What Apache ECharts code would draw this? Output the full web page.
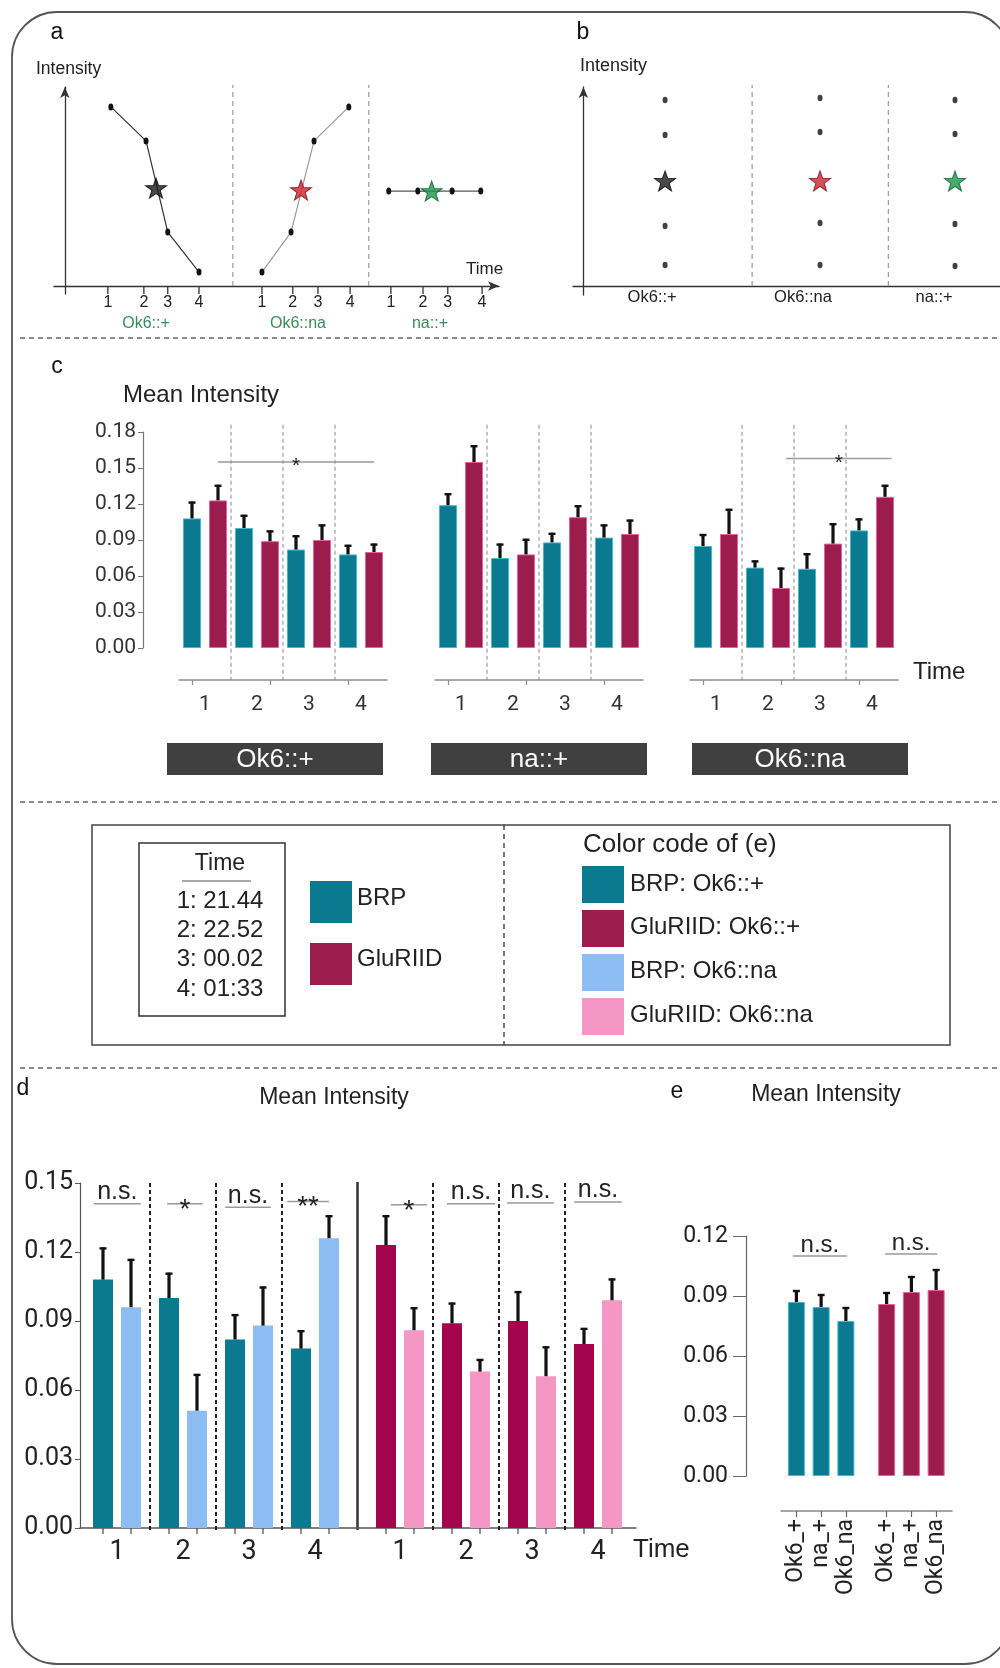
<!DOCTYPE html>
<html>
<head>
<meta charset="utf-8">
<title>BRP and GluRIID mean intensity over time</title>
<script src="https://cdn.jsdelivr.net/npm/echarts@6/dist/echarts.min.js"></script>
<style>
  html, body { margin: 0; padding: 0; background: #ffffff; }
  #chart { width: 1000px; height: 1668px; }
</style>
</head>
<body>
<div id="chart"></div>
<script>
// ================= data =================
const timeLabels = ['1', '2', '3', '4'];
const timeTable = ['1: 21.44', '2: 22.52', '3: 00.02', '4: 01:33'];

// (a) schematic intensity traces, arbitrary time / intensity units
const aTimesOk6Plus = [10.6, 18.7, 23.7, 30.9];
const aIntOk6Plus   = [90, 72.9, 27.1, 7.0];
const aMeanOk6Plus  = [21.0, 49.2];
const aTimesOk6Na   = [45.4, 52.1, 57.4, 65.4];
const aIntOk6Na     = [7.0, 27.1, 72.9, 90];
const aMeanOk6Na    = [54.4, 48.2];
const aTimesNaPlus  = [74.6, 81.3, 89.2, 95.8];
const aIntNaPlus    = [47.7, 47.7, 47.7, 47.7];
const aMeanNaPlus   = [84.5, 47.7];
const aTickTimes    = [9.9, 18.2, 23.7, 30.9, 45.4, 52.5, 58.3, 65.7, 75.1, 82.5, 88.2, 96.1];
const aGroupNames   = ['Ok6::+', 'Ok6::na', 'na::+'];

// (b) schematic intensity spread per genotype
const bGroupNames = ['Ok6::+', 'Ok6::na', 'na::+'];
const bIntOk6Plus = [93.5, 75.9, 30.2, 10.6];
const bIntOk6Na   = [94.5, 77.4, 31.7, 10.6];
const bIntNaPlus  = [93.5, 76.4, 31.2, 10.1];
const bMeans      = [52.8, 52.8, 52.8];

// (c) mean intensity per genotype and time point (mean, SEM)
const cGenotypes     = ['Ok6::+', 'na::+', 'Ok6::na'];
const cBrpOk6Plus    = [0.108, 0.100, 0.082, 0.078];
const cBrpOk6PlusSem = [0.014, 0.011, 0.012, 0.008];
const cGluOk6Plus    = [0.123, 0.089, 0.090, 0.080];
const cGluOk6PlusSem = [0.013, 0.009, 0.013, 0.007];
const cBrpNaPlus     = [0.119, 0.075, 0.088, 0.092];
const cBrpNaPlusSem  = [0.010, 0.012, 0.008, 0.011];
const cGluNaPlus     = [0.155, 0.078, 0.109, 0.095];
const cGluNaPlusSem  = [0.014, 0.013, 0.010, 0.012];
const cBrpOk6Na      = [0.085, 0.067, 0.066, 0.098];
const cBrpOk6NaSem   = [0.010, 0.006, 0.013, 0.010];
const cGluOk6Na      = [0.095, 0.050, 0.087, 0.126];
const cGluOk6NaSem   = [0.021, 0.017, 0.017, 0.010];
const cSigLabels     = [['*'], [], ['*']];
const cSigHeights    = [[0.155], [], [0.158]];

// (d) Ok6::+ vs Ok6::na per time point
const dBrpOk6Plus    = [0.108, 0.100, 0.082, 0.078];
const dBrpOk6PlusSem = [0.014, 0.011, 0.011, 0.008];
const dBrpOk6Na      = [0.096, 0.051, 0.088, 0.126];
const dBrpOk6NaSem   = [0.021, 0.016, 0.017, 0.010];
const dGluOk6Plus    = [0.123, 0.089, 0.090, 0.080];
const dGluOk6PlusSem = [0.013, 0.009, 0.013, 0.007];
const dGluOk6Na      = [0.086, 0.068, 0.066, 0.099];
const dGluOk6NaSem   = [0.010, 0.0055, 0.013, 0.0095];
const dSigBrp        = ['n.s.', '*', 'n.s.', '**'];
const dSigBrpHeight  = [0.141, 0.141, 0.1395, 0.142];
const dSigGlu        = ['*', 'n.s.', 'n.s.', 'n.s.'];
const dSigGluHeight  = [0.1405, 0.141, 0.1413, 0.1417];

// (e) pooled mean intensity per genotype
const eLabels     = ['Ok6_+', 'na_+', 'Ok6_na'];
const eBrp        = [0.087, 0.0845, 0.0775];
const eBrpSem     = [0.006, 0.0065, 0.007];
const eGlu        = [0.086, 0.092, 0.093];
const eGluSem     = [0.006, 0.008, 0.0105];
const eSig        = ['n.s.', 'n.s.'];
const eSigHeight  = [0.110, 0.111];

// key
const keyNames = ['BRP', 'GluRIID'];
const colourCodeLabels = ['BRP: Ok6::+', 'GluRIID: Ok6::+', 'BRP: Ok6::na', 'GluRIID: Ok6::na'];

// ================= layout & style =================
const A = {left: 54, top: 87, width: 445, height: 207};
const B = {left: 573, top: 87, width: 427, height: 208};
const aGroupCentres = [18.7, 53.7, 84.1];
const aDividers = [38.7, 70.0];
const bGroupX = [19.6, 56.8, 89.2];
const bLabelX = [16.5, 52.7, 84.2];
const bDividers = [40.5, 73.2];
const C = {lefts: [179, 435, 690], top: 432, width: 208, height: 216, drop: 32, yOffset: 36, barWidth: 18};
const cSigAnchor = [[1], [], [3]];
const cSigSpans = [[[0, 6]], [], [[0.2, 4.25]]];
const D = {frameLeft: 80, frameWidth: 556, lefts: [84, 367], halfWidth: 264, top: 1183, height: 345, barWidth: 20, pairOffset: 14};
const dSpansBrp = [[-0.35, 0.36], [-0.24, 0.30], [-0.36, 0.33], [-0.42, 0.21]];
const dSpansGlu = [[-0.14, 0.41], [-0.29, 0.44], [-0.38, 0.33], [-0.36, 0.36]];
const E = {frameLeft: 781, frameWidth: 171, lefts: [784, 874.25], halfWidth: 74.25, top: 1236, height: 240, drop: 35, yOffset: 38, barWidth: 17};
const eSpans = [[-0.14, 2.04], [-0.06, 2.04]];

const TEAL = '#0b7a91', TEAL_EDGE = '#43b9c9';
const MAGENTA = '#9c1c4e', MAGENTA_EDGE = '#e2629c';
const MAGENTA_D = '#a2054b';
const LIGHT_BLUE = '#8ebdf3';
const PINK = '#f497c5';
const BOX_GREY = '#404040';
const SANS = "'Liberation Sans', Arial, sans-serif";
const NUM = "Roboto, 'Liberation Sans', sans-serif";
const STAR = 'path://M12,0.6L14.8,8.6L23.3,8.8L16.5,13.9L19,22.1L12,17.2L5,22.1L7.5,13.9L0.7,8.8L9.2,8.6Z';
const STAR_FILL = ['#1c1c1c', '#d0202f', '#18994b'];
const STAR_EDGE = ['#000000', '#6e0f18', '#0c5a2a'];

// ================= builders =================
const grids = [], xAxes = [], yAxes = [], series = [], graphics = [];
const addGrid = r => (grids.push(Object.assign({containLabel: false, outerBoundsMode: 'none'}, r)), grids.length - 1);
const addX = a => (xAxes.push(a), xAxes.length - 1);
const addY = a => (yAxes.push(a), yAxes.length - 1);
const HIDE = {axisTick: {show: false}, axisLabel: {show: false}, splitLine: {show: false}};

function textEl(x, y, text, size, fill, align, vAlign, family, weight) {
  align = align || 'center'; vAlign = vAlign || 'middle';
  return {type: 'text', x: x, y: y, silent: true, style: {
    text: text, fill: fill || '#222', fontSize: size, fontFamily: family || SANS, fontWeight: weight || 'normal',
    align: align, verticalAlign: vAlign, textAlign: align, textVerticalAlign: vAlign}};
}
function addCustom(xi, yi, data, renderItem, z) {
  series.push({type: 'custom', xAxisIndex: xi, yAxisIndex: yi, data: data, renderItem: renderItem,
    z: z == null ? 5 : z, silent: true, clip: false, encode: {x: 0, y: 1}});
}
function errorBarItem(params, api) {
  const cat = api.value(0), mean = api.value(1), sem = api.value(2), off = api.value(3);
  const base = api.coord([cat, mean]);
  const top = api.coord([cat, mean + sem]);
  const x = base[0] + off;
  return {type: 'group', children: [
    {type: 'line', shape: {x1: x, y1: base[1], x2: x, y2: top[1]}, style: {stroke: '#111', lineWidth: 3.2}},
    {type: 'line', shape: {x1: x - 3.5, y1: top[1] + 1, x2: x + 3.5, y2: top[1] + 1}, style: {stroke: '#111', lineWidth: 2.4}}
  ]};
}
function boundaryItem(topValue, dropPx, style) {
  return function (params, api) {
    const k = api.value(0);
    const band = api.size([1, 0])[0];
    const p = api.coord([k, 0]);
    const x = p[0] + band / 2;
    return {type: 'line', shape: {x1: x, y1: api.coord([k, topValue])[1], x2: x, y2: p[1] + dropPx}, style: style};
  };
}
function bracketItem(labels, spans, fontSize, starSize) {
  return function (params, api) {
    const k = api.value(0), h = api.value(1);
    const span = spans[params.dataIndex];
    const band = api.size([1, 0])[0];
    const p = api.coord([k, h]);
    const x0 = p[0] + span[0] * band, x1 = p[0] + span[1] * band;
    const lbl = labels[params.dataIndex];
    const star = lbl.indexOf('*') >= 0;
    return {type: 'group', children: [
      {type: 'line', shape: {x1: x0, y1: p[1], x2: x1, y2: p[1]}, style: {stroke: '#9a9a9a', lineWidth: 1.5}},
      star ? textEl((x0 + x1) / 2, p[1] + starSize * 0.22, lbl, starSize, '#222', 'center', 'middle')
           : textEl((x0 + x1) / 2, p[1] + 1, lbl, fontSize, '#222', 'center', 'bottom')
    ]};
  };
}

// ================= (a) =================
const gA = addGrid(A);
const arrowLine = {show: true, onZero: true, symbol: ['none', 'arrow'], symbolSize: [7, 11], lineStyle: {color: '#333', width: 1.3}};
const axA = addX(Object.assign({gridIndex: gA, type: 'value', min: -2.5, max: 100, axisLine: arrowLine}, HIDE));
const ayA = addY(Object.assign({gridIndex: gA, type: 'value', min: -4, max: 100, axisLine: arrowLine}, HIDE));
addCustom(axA, ayA, aDividers.map(x => [x, 101]), function (params, api) {
  const b = api.coord([api.value(0), 0]), t = api.coord([api.value(0), api.value(1)]);
  return {type: 'line', shape: {x1: b[0], y1: b[1], x2: t[0], y2: t[1]}, style: {stroke: '#9a9a9a', lineWidth: 1.2, lineDash: [5, 4]}};
}, 1);
[[aTimesOk6Plus, aIntOk6Plus, '#333'], [aTimesOk6Na, aIntOk6Na, '#9a9a9a'], [aTimesNaPlus, aIntNaPlus, '#555']]
  .forEach(function (tr) {
    series.push({type: 'line', xAxisIndex: axA, yAxisIndex: ayA, data: tr[0].map((t, i) => [t, tr[1][i]]),
      symbol: 'circle', symbolSize: [5, 7], itemStyle: {color: '#111'}, lineStyle: {color: tr[2], width: 1.2}, z: 3, silent: true});
  });
[aMeanOk6Plus, aMeanOk6Na, aMeanNaPlus].forEach(function (m, i) {
  series.push({type: 'scatter', xAxisIndex: axA, yAxisIndex: ayA, data: [m], symbol: STAR, symbolSize: [21, 20],
    itemStyle: {color: STAR_FILL[i], borderColor: STAR_EDGE[i], borderWidth: 1}, z: 4, silent: true});
});
addCustom(axA, ayA, aTickTimes.map(t => [t, 0]), function (params, api) {
  const p = api.coord([api.value(0), 0]);
  return {type: 'group', children: [
    {type: 'line', shape: {x1: p[0], y1: p[1] + 1, x2: p[0], y2: p[1] + 8}, style: {stroke: '#333', lineWidth: 1.3}},
    textEl(p[0], p[1] + 17, timeLabels[params.dataIndex % timeLabels.length], 16, '#222')
  ]};
});
addCustom(axA, ayA, aGroupCentres.map(x => [x, 0]), function (params, api) {
  const p = api.coord([api.value(0), 0]);
  return textEl(p[0], p[1] + 38, aGroupNames[params.dataIndex], 16, '#3a8c5c');
});

// ================= (b) =================
const gB = addGrid(B);
const axB = addX(Object.assign({gridIndex: gB, type: 'value', min: -2.5, max: 100,
  axisLine: {show: true, onZero: true, lineStyle: {color: '#333', width: 1.3}}}, HIDE));
const ayB = addY(Object.assign({gridIndex: gB, type: 'value', min: -4.5, max: 100, axisLine: arrowLine}, HIDE));
addCustom(axB, ayB, bDividers.map(x => [x, 101]), function (params, api) {
  const b = api.coord([api.value(0), 0]), t = api.coord([api.value(0), api.value(1)]);
  return {type: 'line', shape: {x1: b[0], y1: b[1], x2: t[0], y2: t[1]}, style: {stroke: '#9a9a9a', lineWidth: 1.2, lineDash: [5, 4]}};
}, 1);
[bIntOk6Plus, bIntOk6Na, bIntNaPlus].forEach(function (vals, g) {
  series.push({type: 'scatter', xAxisIndex: axB, yAxisIndex: ayB, data: vals.map(v => [bGroupX[g], v]),
    symbol: 'circle', symbolSize: [5, 6.5], itemStyle: {color: '#111'}, z: 3, silent: true});
  series.push({type: 'scatter', xAxisIndex: axB, yAxisIndex: ayB, data: [[bGroupX[g], bMeans[g]]], symbol: STAR,
    symbolSize: [21, 20], itemStyle: {color: STAR_FILL[g], borderColor: STAR_EDGE[g], borderWidth: 1}, z: 4, silent: true});
});
addCustom(axB, ayB, bLabelX.map(x => [x, 0]), function (params, api) {
  const p = api.coord([api.value(0), 0]);
  return textEl(p[0], p[1] + 11, bGroupNames[params.dataIndex], 16.5, '#222');
});

// ================= (c) =================
const cData = [
  [cBrpOk6Plus, cBrpOk6PlusSem, cGluOk6Plus, cGluOk6PlusSem],
  [cBrpNaPlus, cBrpNaPlusSem, cGluNaPlus, cGluNaPlusSem],
  [cBrpOk6Na, cBrpOk6NaSem, cGluOk6Na, cGluOk6NaSem]
];
const cSlots = [];
timeLabels.forEach(t => { cSlots.push('BRP ' + t); cSlots.push('GluRIID ' + t); });
cData.forEach(function (grp, gi) {
  const brp = grp[0], brpSem = grp[1], glu = grp[2], gluSem = grp[3];
  const g = addGrid({left: C.lefts[gi], top: C.top, width: C.width, height: C.height});
  const xb = addX({gridIndex: g, type: 'category', data: cSlots, position: 'bottom', offset: C.drop,
    axisLine: {show: true, onZero: false, lineStyle: {color: '#8c8c8c', width: 1.5}},
    axisTick: {show: true, alignWithLabel: true, length: 5, lineStyle: {color: '#8c8c8c', width: 1.2}},
    axisLabel: {show: false}, splitLine: {show: false}});
  addX({gridIndex: g, type: 'category', data: timeLabels, position: 'bottom', offset: C.drop,
    axisLine: {show: false, onZero: false}, axisTick: {show: false},
    axisLabel: {show: true, interval: 0, margin: 14, fontSize: 21, color: '#333', fontFamily: NUM}, splitLine: {show: false}});
  const y = addY({gridIndex: g, type: 'value', min: 0, max: 0.18, interval: 0.03, show: gi === 0, offset: C.yOffset,
    axisLine: {show: true, onZero: false, lineStyle: {color: '#777', width: 1.2}},
    axisTick: {show: true, length: 5, lineStyle: {color: '#777'}},
    axisLabel: {margin: 7, fontSize: 21, color: '#333', fontFamily: NUM, formatter: v => v.toFixed(2)},
    splitLine: {show: false}});
  const bars = [], errs = [];
  timeLabels.forEach(function (t, i) {
    bars.push({value: brp[i], itemStyle: {color: TEAL, borderColor: TEAL_EDGE, borderWidth: 1}});
    bars.push({value: glu[i], itemStyle: {color: MAGENTA, borderColor: MAGENTA_EDGE, borderWidth: 1}});
    errs.push([2 * i, brp[i], brpSem[i], 0]);
    errs.push([2 * i + 1, glu[i], gluSem[i], 0]);
  });
  series.push({type: 'bar', xAxisIndex: xb, yAxisIndex: y, data: bars, barWidth: C.barWidth, silent: true, z: 2});
  addCustom(xb, y, errs, errorBarItem, 4);
  addCustom(xb, y, [[1, 0], [3, 0], [5, 0]],
    boundaryItem(0.186, C.drop, {stroke: '#8a8a8a', lineWidth: 1, lineDash: [4, 3]}), 1);
  if (cSigLabels[gi].length) {
    addCustom(xb, y, cSigLabels[gi].map((l, j) => [cSigAnchor[gi][j], cSigHeights[gi][j]]),
      bracketItem(cSigLabels[gi], cSigSpans[gi], 20, 21), 5);
  }
});

// ================= (d) =================
const gD = addGrid({left: D.frameLeft, top: D.top, width: D.frameWidth, height: D.height});
addX(Object.assign({gridIndex: gD, type: 'value', min: 0, max: 1, position: 'bottom',
  axisLine: {show: true, onZero: false, lineStyle: {color: '#555', width: 1.5}}}, HIDE));
addY({gridIndex: gD, type: 'value', min: 0, max: 0.15, interval: 0.03,
  axisLine: {show: true, onZero: false, lineStyle: {color: '#555', width: 1.2}},
  axisTick: {show: true, length: 5, lineStyle: {color: '#555'}},
  axisLabel: {margin: 7, fontSize: 25, color: '#222', fontFamily: NUM, formatter: v => v.toFixed(2)},
  splitLine: {show: false}});
[
  [dBrpOk6Plus, dBrpOk6PlusSem, TEAL, dBrpOk6Na, dBrpOk6NaSem, LIGHT_BLUE, dSigBrp, dSigBrpHeight, dSpansBrp],
  [dGluOk6Plus, dGluOk6PlusSem, MAGENTA_D, dGluOk6Na, dGluOk6NaSem, PINK, dSigGlu, dSigGluHeight, dSpansGlu]
].forEach(function (h, hi) {
  const g = addGrid({left: D.lefts[hi], top: D.top, width: D.halfWidth, height: D.height});
  const x = addX({gridIndex: g, type: 'category', data: timeLabels, position: 'bottom',
    axisLine: {show: false, onZero: false}, axisTick: {show: false},
    axisLabel: {show: true, interval: 0, margin: 11, fontSize: 27, color: '#222', fontFamily: NUM}, splitLine: {show: false}});
  const y = addY({gridIndex: g, type: 'value', min: 0, max: 0.15, show: false});
  series.push({type: 'bar', xAxisIndex: x, yAxisIndex: y, data: h[0], barWidth: D.barWidth, barGap: '40%',
    itemStyle: {color: h[2]}, silent: true, z: 2});
  series.push({type: 'bar', xAxisIndex: x, yAxisIndex: y, data: h[3], barWidth: D.barWidth, barGap: '40%',
    itemStyle: {color: h[5]}, silent: true, z: 2});
  const errs = [];
  timeLabels.forEach(function (t, i) {
    errs.push([i, h[0][i], h[1][i], -D.pairOffset]);
    errs.push([i, h[3][i], h[4][i], D.pairOffset]);
  });
  addCustom(x, y, errs, errorBarItem, 4);
  addCustom(x, y, timeLabels.map((t, i) => [i, 0]), function (params, api) {
    const p = api.coord([api.value(0), 0]);
    return {type: 'group', children: [-D.pairOffset, D.pairOffset].map(o => ({
      type: 'line', shape: {x1: p[0] + o, y1: p[1], x2: p[0] + o, y2: p[1] + 6}, style: {stroke: '#555', lineWidth: 1.3}}))};
  }, 3);
  addCustom(x, y, [[0, 0], [1, 0], [2, 0]],
    boundaryItem(0.15, 4, {stroke: '#222', lineWidth: 2, lineDash: [4, 3]}), 1);
  addCustom(x, y, h[6].map((l, i) => [i, h[7][i]]), bracketItem(h[6], h[8], 25, 28), 5);
});
// solid divider between the BRP and GluRIID halves of (d)
const dDividerX = (D.lefts[0] + D.halfWidth + D.lefts[1]) / 2;
graphics.push({type: 'line', silent: true, shape: {x1: dDividerX, y1: D.top - 1, x2: dDividerX, y2: D.top + D.height + 2},
  style: {stroke: '#3a3a3a', lineWidth: 2.6}});

// ================= (e) =================
const gE = addGrid({left: E.frameLeft, top: E.top, width: E.frameWidth, height: E.height + E.drop});
addX(Object.assign({gridIndex: gE, type: 'value', min: 0, max: 1, position: 'bottom',
  axisLine: {show: true, onZero: false, lineStyle: {color: '#888', width: 1.5}}}, HIDE));
addY({gridIndex: gE, type: 'value', min: 0, max: 1, show: false});
[[eBrp, eBrpSem, TEAL, TEAL_EDGE], [eGlu, eGluSem, MAGENTA, MAGENTA_EDGE]].forEach(function (h, hi) {
  const g = addGrid({left: E.lefts[hi], top: E.top, width: E.halfWidth, height: E.height});
  const x = addX({gridIndex: g, type: 'category', data: eLabels, position: 'bottom', offset: E.drop,
    axisLine: {show: false, onZero: false},
    axisTick: {show: true, alignWithLabel: true, length: 6, lineStyle: {color: '#666', width: 1.2}},
    axisLabel: {show: true, interval: 0, rotate: 90, margin: 8, fontSize: 23, color: '#222', fontFamily: NUM},
    splitLine: {show: false}});
  const y = addY({gridIndex: g, type: 'value', min: 0, max: 0.12, interval: 0.03, show: hi === 0, offset: E.yOffset,
    axisLine: {show: true, onZero: false, lineStyle: {color: '#666', width: 1.2}},
    axisTick: {show: true, length: 13, lineStyle: {color: '#666'}},
    axisLabel: {margin: 18, fontSize: 23, color: '#222', fontFamily: NUM, formatter: v => v.toFixed(2)},
    splitLine: {show: false}});
  series.push({type: 'bar', xAxisIndex: x, yAxisIndex: y, data: h[0], barWidth: E.barWidth,
    itemStyle: {color: h[2], borderColor: h[3], borderWidth: 1}, silent: true, z: 2});
  addCustom(x, y, h[0].map((v, i) => [i, v, h[1][i], 0]), errorBarItem, 4);
  addCustom(x, y, [[0, eSigHeight[hi]]], bracketItem([eSig[hi]], [eSpans[hi]], 24, 26), 5);
});

// ================= frame, separators, titles =================
graphics.push({type: 'rect', silent: true, shape: {x: 12, y: 12, width: 998, height: 1652, r: 45},
  style: {fill: 'none', stroke: '#555', lineWidth: 1.8}});
[338, 802, 1068].forEach(function (yy) {
  graphics.push({type: 'line', silent: true, shape: {x1: 20, y1: yy, x2: 1000, y2: yy},
    style: {stroke: '#666', lineWidth: 1.3, lineDash: [5, 4]}});
});
[['a', 57, 33], ['b', 583, 33], ['c', 57, 367], ['d', 23, 1089], ['e', 677, 1092]].forEach(function (l) {
  graphics.push(textEl(l[1], l[2], l[0], 23, '#111'));
});
graphics.push(textEl(36, 69, 'Intensity', 17.5, '#222', 'left'));
graphics.push(textEl(580, 66, 'Intensity', 18, '#222', 'left'));
graphics.push(textEl(466, 269, 'Time', 17, '#222', 'left'));
graphics.push(textEl(123, 395, 'Mean Intensity', 24, '#222', 'left'));
graphics.push(textEl(913, 672, 'Time', 24, '#222', 'left'));
graphics.push(textEl(334, 1098, 'Mean Intensity', 23, '#222'));
graphics.push(textEl(826, 1095, 'Mean Intensity', 23, '#222'));
graphics.push(textEl(633, 1550, 'Time', 26, '#222', 'left'));

// genotype boxes under (c)
[167, 431, 692].forEach(function (bx, i) {
  graphics.push({type: 'rect', silent: true, shape: {x: bx, y: 743, width: 216, height: 32}, style: {fill: BOX_GREY}});
  graphics.push(textEl(bx + 108, 760, cGenotypes[i], 26, '#ffffff'));
});

// key box
graphics.push({type: 'rect', silent: true, shape: {x: 92, y: 825, width: 858, height: 220},
  style: {fill: 'none', stroke: '#444', lineWidth: 1.5}});
graphics.push({type: 'line', silent: true, shape: {x1: 504, y1: 825, x2: 504, y2: 1045},
  style: {stroke: '#333', lineWidth: 1.3, lineDash: [5, 4]}});
graphics.push({type: 'rect', silent: true, shape: {x: 139, y: 843, width: 146, height: 173},
  style: {fill: 'none', stroke: '#333', lineWidth: 1.5}});
graphics.push(textEl(220, 864, 'Time', 23, '#222'));
graphics.push({type: 'line', silent: true, shape: {x1: 182, y1: 881, x2: 251, y2: 881}, style: {stroke: '#555', lineWidth: 1.2}});
timeTable.forEach(function (t, i) { graphics.push(textEl(220, 901 + i * 29.4, t, 24, '#222')); });
[TEAL, MAGENTA].forEach(function (c, i) {
  graphics.push({type: 'rect', silent: true, shape: {x: 310, y: 881 + i * 62, width: 42, height: 42}, style: {fill: c}});
  graphics.push(textEl(357, 898 + i * 61, keyNames[i], 24, '#222', 'left'));
});
graphics.push(textEl(583, 845, 'Color code of (e)', 26, '#222', 'left'));
[TEAL, MAGENTA, LIGHT_BLUE, PINK].forEach(function (c, i) {
  graphics.push({type: 'rect', silent: true, shape: {x: 582, y: 866 + i * 44, width: 42, height: 37}, style: {fill: c}});
  graphics.push(textEl(630, 884 + i * 43.7, colourCodeLabels[i], 24, '#222', 'left'));
});

// ================= render =================
const chart = echarts.init(document.getElementById('chart'), null, {renderer: 'canvas', width: 1000, height: 1668});
chart.setOption({
  animation: false,
  backgroundColor: '#ffffff',
  grid: grids,
  xAxis: xAxes,
  yAxis: yAxes,
  series: series,
  graphic: {elements: graphics}
});
</script>
</body>
</html>
